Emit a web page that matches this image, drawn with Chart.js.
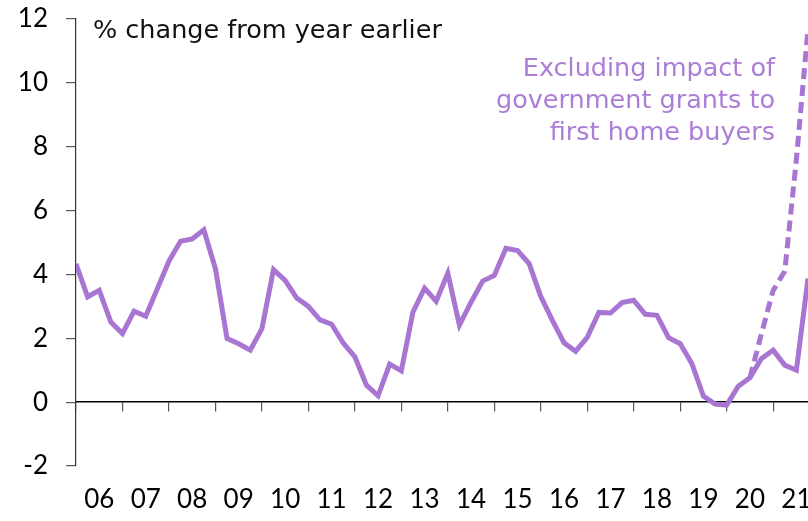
<!DOCTYPE html>
<html>
<head>
<meta charset="utf-8">
<script src="https://cdn.jsdelivr.net/npm/chart.js@4/dist/chart.umd.min.js"></script>
<style>
  html, body { margin: 0; padding: 0; background: #fff; }
  #wrap { width: 808px; height: 521px; }
</style>
</head>
<body>
<div id="wrap"><canvas id="chart" width="808" height="521"></canvas></div>
<script>
// New dwelling costs, quarterly, year-ended % change (Mar 2006 to Dec 2021)
const yearLabels = ['06','07','08','09','10','11','12','13','14','15','16','17','18','19','20','21'];

const newDwellingCosts = [
  4.33, 3.30, 3.50, 2.51,   // 2006
  2.15, 2.85, 2.69, 3.55,   // 2007
  4.42, 5.04, 5.11, 5.40,   // 2008
  4.18, 1.99, 1.83, 1.63,   // 2009
  2.30, 4.15, 3.81, 3.26,   // 2010
  3.00, 2.58, 2.44, 1.85,   // 2011
  1.42, 0.53, 0.20, 1.19,   // 2012
  0.98, 2.82, 3.57, 3.16,   // 2013
  4.04, 2.41, 3.13, 3.79,   // 2014
  3.97, 4.82, 4.75, 4.34,   // 2015
  3.31, 2.56, 1.86, 1.59,   // 2016
  2.03, 2.81, 2.79, 3.12,   // 2017
  3.19, 2.75, 2.72, 2.02,   // 2018
  1.83, 1.21, 0.19, -0.06,  // 2019
  -0.09, 0.50, 0.76, 1.37,  // 2020
  1.63, 1.16, 1.00, 3.87    // 2021
];

// Excluding first home buyer grants: Sep 2020 onwards
const exGrantsStart = 58;
const exGrants = [0.76, 2.15, 3.50, 4.10, 7.60, 11.70];

const yTicks = [-2, 0, 2, 4, 6, 8, 10, 12];

const titleText = '% change from year earlier';
const noteLines = ['Excluding impact of', 'government grants to', 'first home buyers'];

const PURPLE = '#a875d3';
const TICK_FONT = 'Lato';
const TEXT_FONT = '"DejaVu Sans"';

const lastIndex = newDwellingCosts.length - 1;
const yearStarts = yearLabels.map((_, i) => i * 4);
const yearMids = yearLabels.map((_, i) => i * 4 + 2);

const solidPoints = newDwellingCosts.map((v, i) => ({ x: i, y: v }));
const dashedPoints = exGrants.map((v, i) => ({ x: exGrantsStart + i, y: v }));

// Title and annotation text inside the plot
const textPlugin = {
  id: 'chartText',
  afterDraw(chart) {
    const ctx = chart.ctx;
    ctx.save();
    ctx.textBaseline = 'alphabetic';
    ctx.fillStyle = '#111';
    ctx.textAlign = 'left';
    ctx.font = `25.5px ${TEXT_FONT}`;
    ctx.fillText(titleText, 93, 38);

    ctx.fillStyle = '#ac7dd6';
    ctx.textAlign = 'right';
    ctx.font = `25.5px ${TEXT_FONT}`;
    const baselines = [76, 108, 140];
    noteLines.forEach((t, i) => ctx.fillText(t, 775, baselines[i]));
    ctx.restore();
  }
};

// Axis boxes keep a fixed size; label overhang is not reserved
const noEdgePadding = s => {
  s.paddingLeft = 0;
  s.paddingRight = 0;
  s.paddingTop = 0;
  s.paddingBottom = 0;
};

new Chart(document.getElementById('chart'), {
  type: 'line',
  data: {
    datasets: [
      {
        data: solidPoints,
        borderColor: PURPLE,
        borderWidth: 5,
        pointRadius: 0,
        tension: 0,
        xAxisID: 'x',
        yAxisID: 'y'
      },
      {
        data: dashedPoints,
        borderColor: PURPLE,
        borderWidth: 5,
        borderDash: [11, 6],
        borderCapStyle: 'butt',
        pointRadius: 0,
        tension: 0,
        xAxisID: 'x',
        yAxisID: 'y'
      }
    ]
  },
  plugins: [textPlugin],
  options: {
    responsive: false,
    animation: false,
    events: [],
    layout: { padding: { top: 19, right: 0, left: 0, bottom: 0 } },
    plugins: {
      legend: { display: false },
      tooltip: { enabled: false },
      title: { display: false }
    },
    scales: {
      // year labels along the bottom
      x: {
        type: 'linear',
        position: 'bottom',
        min: 0,
        max: lastIndex,
        afterBuildTicks: s => { s.ticks = yearMids.map(v => ({ value: v })); },
        afterFit: s => { s.height = 55; noEdgePadding(s); },
        grid: { display: false, drawTicks: false },
        border: { display: false },
        ticks: {
          autoSkip: false,
          maxRotation: 0,
          padding: 18,
          color: '#000',
          font: { family: TICK_FONT, size: 26 },
          callback: v => yearLabels[(v - 2) / 4] ?? ''
        }
      },
      // axis line through zero with year tick marks
      x0: {
        type: 'linear',
        position: { y: 0 },
        min: 0,
        max: lastIndex,
        afterBuildTicks: s => { s.ticks = yearStarts.map(v => ({ value: v })); },
        afterFit: s => { s.height = 0; noEdgePadding(s); },
        grid: {
          drawOnChartArea: false,
          drawTicks: true,
          tickLength: 9,
          color: '#555',
          lineWidth: 1.2
        },
        border: { display: true, color: '#000', width: 1.5 },
        ticks: { autoSkip: false, callback: () => '', font: { size: 1 } }
      },
      y: {
        type: 'linear',
        position: 'left',
        min: -2,
        max: 12,
        afterBuildTicks: s => { s.ticks = yTicks.map(v => ({ value: v })); },
        afterFit: s => { s.width = 76; noEdgePadding(s); },
        grid: {
          drawOnChartArea: false,
          drawTicks: true,
          tickLength: 10,
          color: '#555',
          lineWidth: 1.2
        },
        border: { display: true, color: '#333', width: 1.2 },
        ticks: {
          padding: 18,
          color: '#000',
          font: { family: TICK_FONT, size: 26 }
        }
      }
    }
  }
});
</script>
</body>
</html>
